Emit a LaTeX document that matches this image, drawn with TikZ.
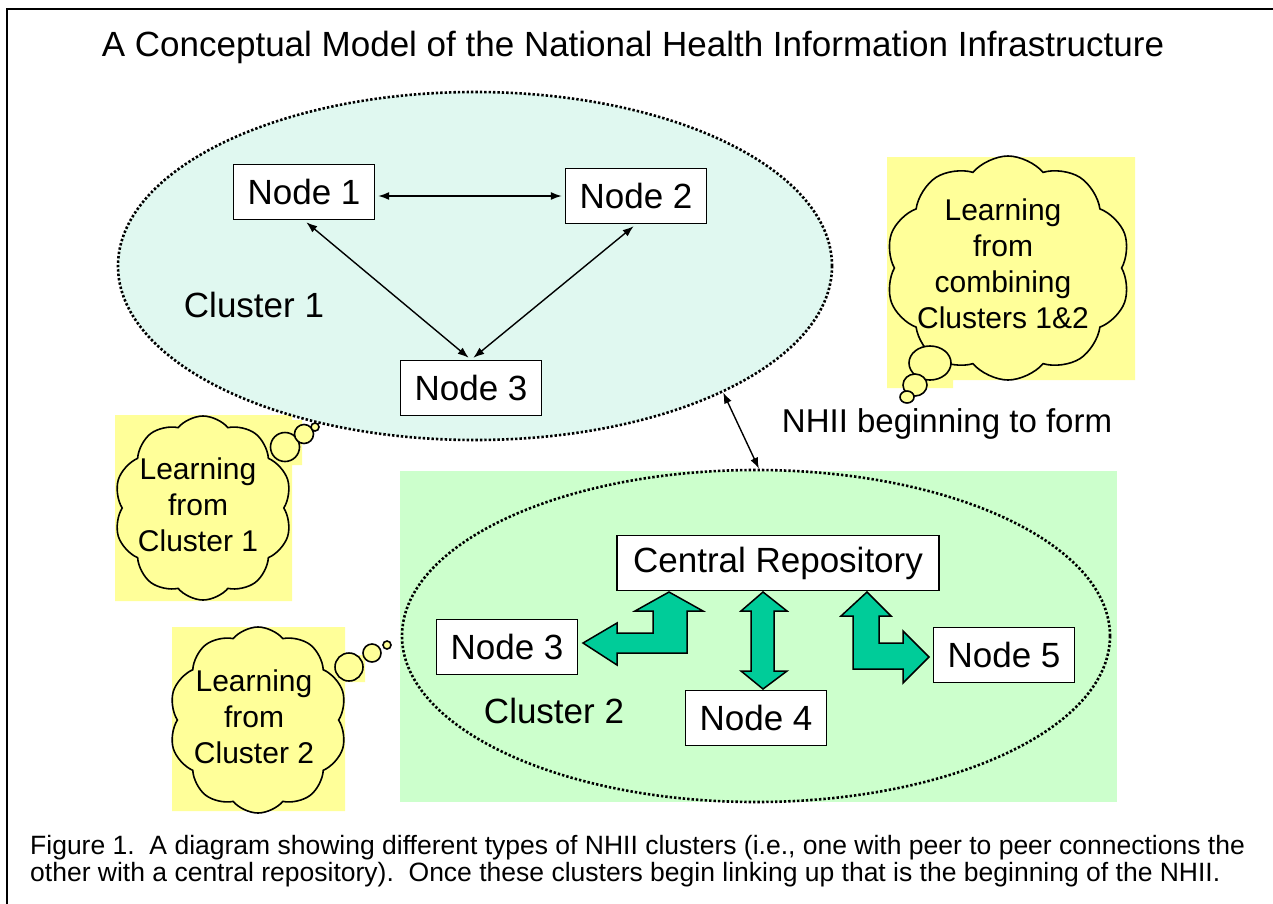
\documentclass[tikz,border=0pt]{standalone}
\usepackage{fontspec}
\setmainfont{Liberation Sans}
\usepackage{tikz}
\usetikzlibrary{shapes.geometric,shapes.symbols,arrows.meta,calc}
\definecolor{mintfill}{RGB}{224,248,240}
\definecolor{palegreen}{RGB}{204,255,204}
\definecolor{noteyellow}{RGB}{255,255,153}
\definecolor{blockgreen}{RGB}{0,204,153}

\begin{document}
\begin{tikzpicture}[x=1pt,y=-1pt,
  box/.style={draw,line width=1.6pt,fill=white,inner xsep=14pt,minimum height=55pt,font=\fontsize{35}{42}\selectfont},
  lab/.style={font=\fontsize{35}{42}\selectfont},
  cluster/.style={ellipse,draw,line width=2.6pt,dash pattern=on 2.4pt off 2pt,inner sep=0pt},
  peer/.style={line width=1.4pt,{Latex[length=11pt,width=8pt]}-{Latex[length=11pt,width=8pt]},shorten <=3pt,shorten >=3pt},
  blockarrow/.style={draw,line width=1.5pt,fill=blockgreen,line join=miter},
  thought/.style={cloud,cloud puffs=10,cloud puff arc=100,cloud ignores aspect,draw,line width=1.6pt,fill=noteyellow,inner sep=0pt},
  bubble/.style={draw,line width=1.6pt,fill=noteyellow},
  cloudtxt/.style={align=center,font=\fontsize{30}{36}\selectfont}]
\useasboundingbox (0,0) rectangle (1273,903);
\draw[line width=2pt] (7,915) -- (7,9) -- (1285,9);
\node[font=\fontsize{35}{42}\selectfont] (title) at (633,47) {A Conceptual Model of the National Health Information Infrastructure};
% backgrounds
\fill[noteyellow] (887,157) rectangle (1135,380) (887,380) rectangle (953,388);
\fill[noteyellow] (115,415) rectangle (292,601) (270,420) rectangle (302,465);
\fill[noteyellow] (172,627) rectangle (345,811) (345,655) rectangle (365,682);
\fill[palegreen] (400,471) rectangle (1117,802);
% cluster 1
\node[cluster,fill=mintfill,minimum width=714pt,minimum height=348pt] (c1) at (475,266) {};
\node[box] (n1) at (304,192) {Node 1};
\node[box] (n2) at (636,196) {Node 2};
\node[box] (n3) at (471,388) {Node 3};
\node[lab] (l1) at (254,305) {Cluster 1};
\draw[peer] (n1.east |- n2.west) -- (n2.west);
\draw[peer] (n1.south) -- (n3.north);
\draw[peer] (n2.south) -- (n3.north);
% cluster 2
\node[cluster,minimum width=708pt,minimum height=332pt] (c2) at (756,636) {};
\node[box,inner xsep=16pt] (cr) at (778,563) {Central Repository};
\node[box] (m3) at (507,647) {Node 3};
\node[box] (m4) at (756,718) {Node 4};
\node[box] (m5) at (1004,655) {Node 5};
\node[lab] (l2) at (554,711) {Cluster 2};
\draw[blockarrow] (669,592) -- (703,611) -- (687,611) -- (687,653) -- (617,653) -- (617,665) -- (583,643) -- (617,623) -- (617,633) -- (653,633) -- (653,611) -- (635,611) -- cycle;
\draw[blockarrow] (763,592) -- (787,611) -- (774,611) -- (774,671) -- (787,671) -- (763,689) -- (741,671) -- (751,671) -- (751,611) -- (741,611) -- cycle;
\draw[blockarrow] (867,592) -- (891,616) -- (879,616) -- (879,643) -- (903,643) -- (903,631) -- (929,657) -- (903,683) -- (903,669) -- (853,669) -- (853,616) -- (841,616) -- cycle;
% link between clusters
\draw[peer,shorten <=0pt,shorten >=0pt] (c1.-27) -- (c2.89);
\node[lab,font=\fontsize{33}{40}\selectfont] (nhii) at (947,424) {NHII beginning to form};
% thought clouds
\node[thought,minimum width=245pt,minimum height=224pt] (t3) at (1008,268) {};
\node[cloudtxt] (t3txt) at (1003,264) {Learning\\from\\combining\\Clusters 1\&2};
\draw[bubble] (930,363) ellipse [x radius=21pt,y radius=17pt];
\draw[bubble] (915,385) ellipse [x radius=12pt,y radius=11pt];
\draw[bubble] (907,397) ellipse [x radius=7pt,y radius=6pt];
\node[thought,minimum width=178pt,minimum height=184pt] (t1) at (203,508) {};
\node[cloudtxt] (t1txt) at (198,505) {Learning\\from\\Cluster 1};
\draw[bubble] (285,447) circle [radius=14.5pt];
\draw[bubble] (304,434) circle [radius=9.5pt];
\draw[bubble] (315,427) circle [radius=4pt];
\node[thought,minimum width=178pt,minimum height=186pt] (t2) at (258,720) {};
\node[cloudtxt] (t2txt) at (254,717) {Learning\\from\\Cluster 2};
\draw[bubble] (349,667) circle [radius=14pt];
\draw[bubble] (372,653) circle [radius=9pt];
\draw[bubble] (387,645) circle [radius=4pt];
% caption
\node[anchor=west,align=left,inner sep=0pt,font=\fontsize{26.5}{27}\selectfont] (cap) at (30,861) {Figure 1.\ \ A diagram showing different types of NHII clusters (i.e., one with peer to peer connections the\\other with a central repository).\ \ Once these clusters begin linking up that is the beginning of the NHII.};
\end{tikzpicture}
\end{document}
